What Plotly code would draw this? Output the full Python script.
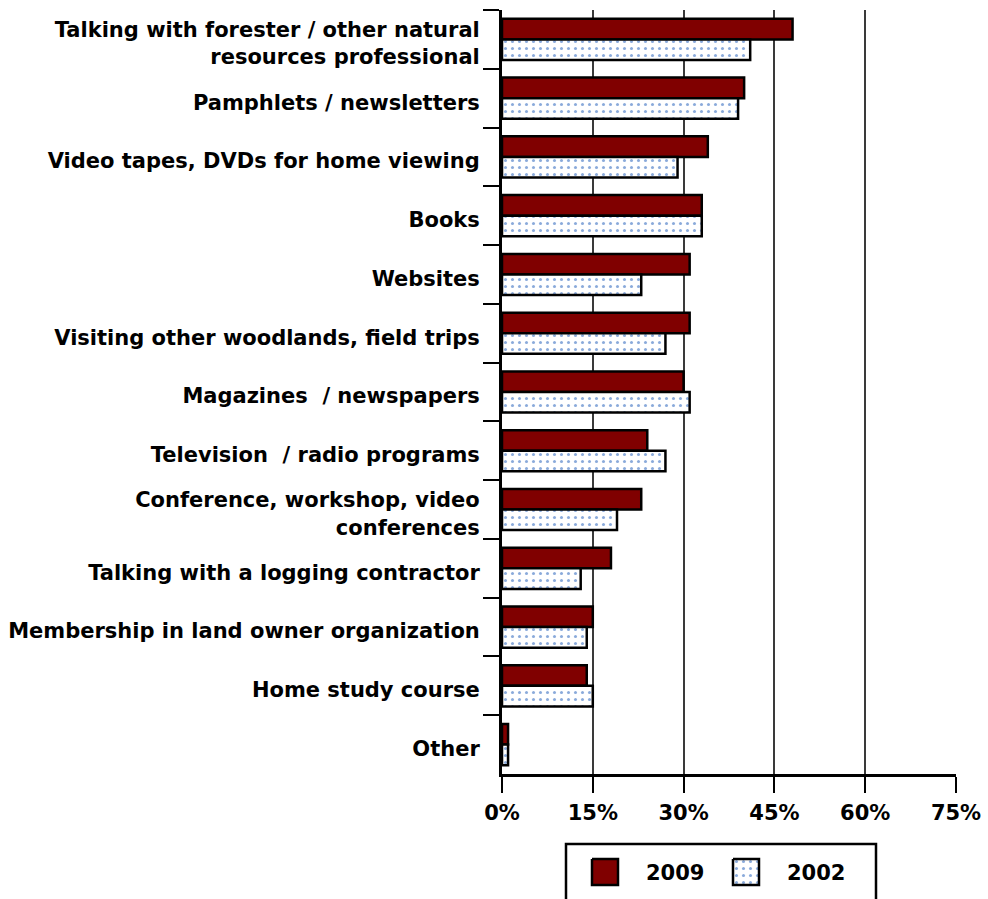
import plotly.graph_objects as go

categories = [
    "Talking with forester / other natural<br>resources professional",
    "Pamphlets / newsletters",
    "Video tapes, DVDs for home viewing",
    "Books",
    "Websites",
    "Visiting other woodlands, field trips",
    "Magazines  / newspapers",
    "Television  / radio programs",
    "Conference, workshop, video<br>conferences",
    "Talking with a logging contractor",
    "Membership in land owner organization",
    "Home study course",
    "Other",
]
values_2009 = [48, 40, 34, 33, 31, 31, 30, 24, 23, 18, 15, 14, 1]
values_2002 = [41, 39, 29, 33, 23, 27, 31, 27, 19, 13, 14, 15, 1]
x_ticks = [0, 15, 30, 45, 60, 75]
series_names = ["2009", "2002"]

font_family = "DejaVu Sans"
dark_red = "#800000"
dot_blue = "#1555b5"
dots = dict(shape=".", fgcolor=dot_blue, bgcolor="white", size=7, solidity=0.15)
bold = dict(family=font_family, size=21, color="black", weight="bold")

W, H = 988, 899
M_L, M_R, M_T = 502, 32, 10
plot_bottom_px = 774                       # bottom of the bar area
area_h = H - M_T                           # plotting area height (no bottom margin)
y_dom_low = (H - plot_bottom_px) / area_h  # bars sit above this, legend below

fig = go.Figure()
fig.add_trace(go.Bar(
    y=categories, x=values_2009, orientation="h", name=series_names[0],
    marker=dict(color=dark_red, line=dict(color="black", width=2.5)),
    showlegend=False,
))
fig.add_trace(go.Bar(
    y=categories, x=values_2002, orientation="h", name=series_names[1],
    marker=dict(color="white", line=dict(color="black", width=2.5), pattern=dots),
    showlegend=False,
))

# Legend panel drawn in its own pixel-scaled axes below the bars
def swatch(x0, y0, size, **kw):
    return go.Scatter(
        x=[x0, x0 + size, x0 + size, x0, x0], y=[y0, y0, y0 + size, y0 + size, y0],
        xaxis="x2", yaxis="y2", mode="lines", fill="toself",
        line=dict(color="black", width=2.5), showlegend=False, hoverinfo="skip", **kw,
    )

fig.add_trace(swatch(592, 859, 26, fillcolor=dark_red))
fig.add_trace(swatch(733, 859, 26, fillcolor="white", fillpattern=dots))
fig.add_shape(type="rect", xref="x2", yref="y2", x0=566, x1=876, y0=844, y1=905,
              line=dict(color="black", width=2.5), fillcolor="rgba(0,0,0,0)", layer="below")
for name, tx in zip(series_names, [675, 816]):
    fig.add_annotation(x=tx, y=873, xref="x2", yref="y2", text=name, showarrow=False,
                       font=bold, xanchor="center", yanchor="middle")

fig.update_layout(
    width=W, height=H,
    margin=dict(l=M_L, r=M_R, t=M_T, b=0),
    paper_bgcolor="white", plot_bgcolor="white",
    barmode="group", bargap=0.30, bargroupgap=0.0,
    font=dict(family=font_family, size=21, color="black"),
    showlegend=False,
    xaxis=dict(
        range=[0, 75], tickvals=x_ticks, ticktext=[f"{v}%" for v in x_ticks],
        showgrid=True, gridcolor="#3a3a3a", gridwidth=1.5,
        showline=True, linecolor="black", linewidth=3,
        ticks="outside", ticklen=16, tickcolor="black", tickwidth=1.5,
        tickfont=bold, ticklabelstandoff=2,
        zeroline=False, fixedrange=True, anchor="y",
    ),
    yaxis=dict(
        domain=[y_dom_low, 1], autorange="reversed", type="category",
        showline=True, linecolor="black", linewidth=3,
        ticks="outside", ticklen=16, tickcolor="black", tickwidth=1.5,
        tickson="boundaries", tickfont=bold, ticklabelstandoff=15,
        ticklabelshift=-4,
        showgrid=False, fixedrange=True, anchor="x",
    ),
    xaxis2=dict(domain=[0, 1], range=[M_L, W - M_R], visible=False,
                fixedrange=True, anchor="y2"),
    yaxis2=dict(domain=[0, y_dom_low], range=[H, plot_bottom_px], visible=False,
                fixedrange=True, anchor="x2"),
)

fig.write_html("out.html")
